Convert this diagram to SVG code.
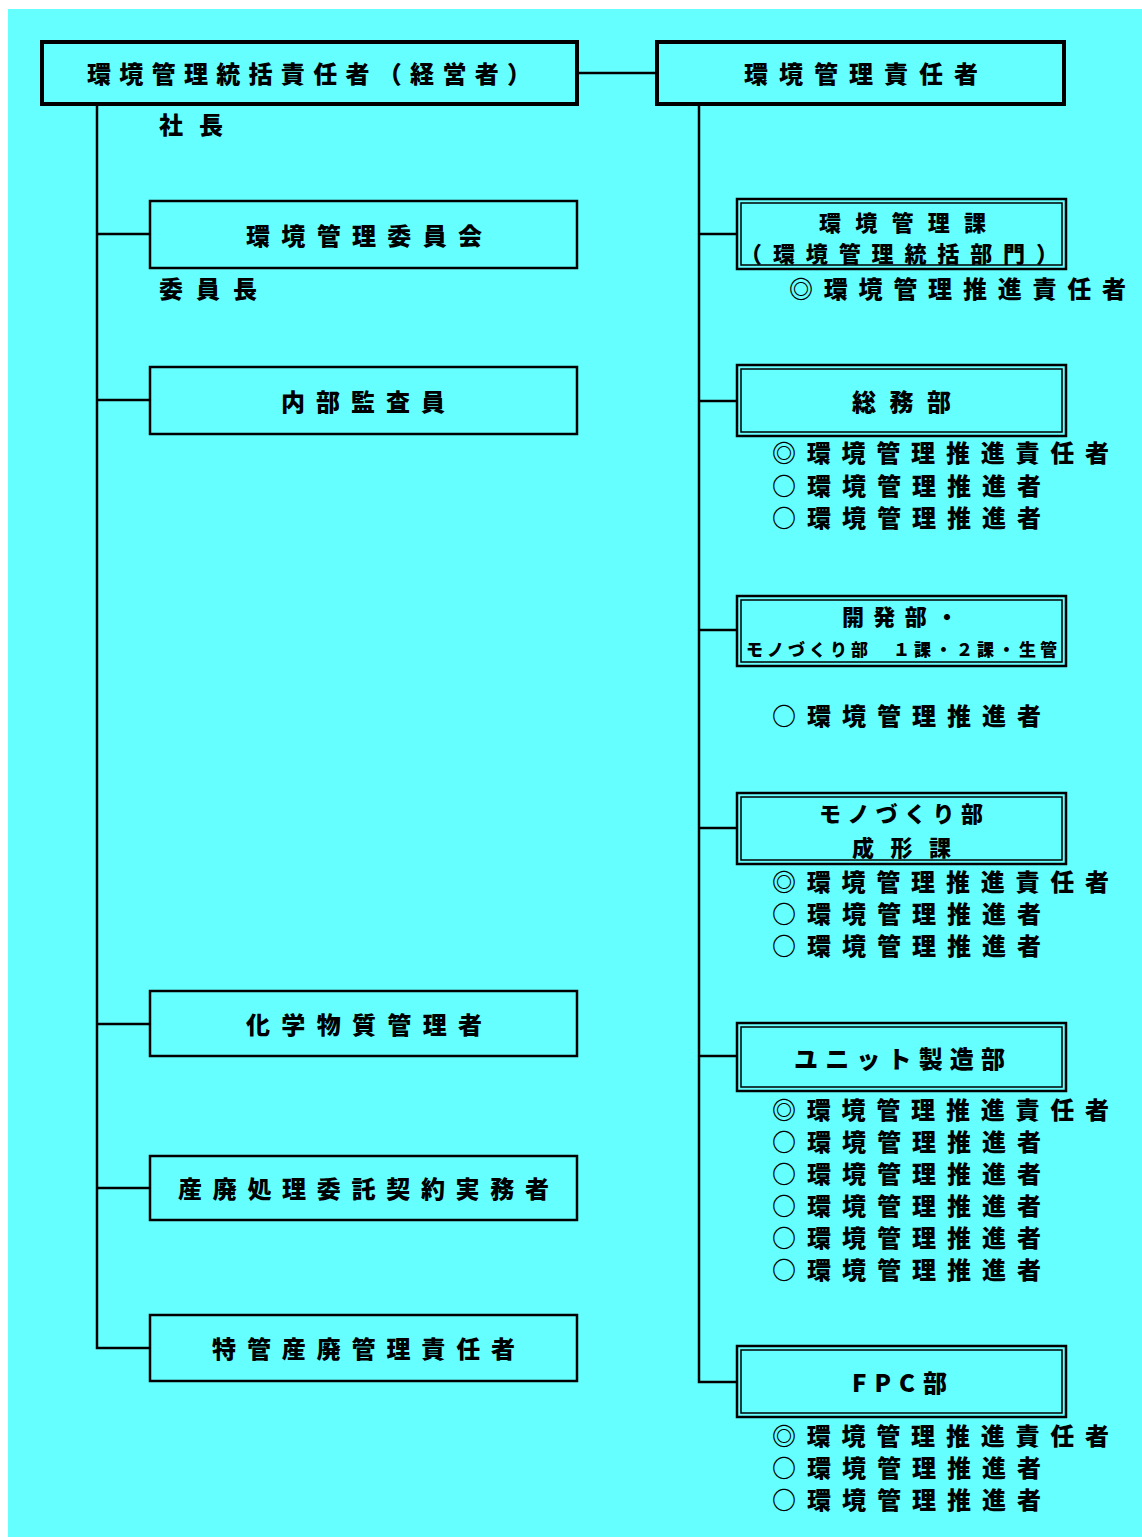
<svg xmlns="http://www.w3.org/2000/svg" width="1142" height="1537" viewBox="0 0 1142 1537">
<style>
.t{font-family:"Noto Sans CJK JP","Noto Sans CJK SC",sans-serif;font-weight:900;font-size:24px;fill:#000}
.s{font-size:24px}
.m{font-size:22px}
.sm{font-size:17px}
.b1{fill:none;stroke:#000;stroke-width:4}
.b2{fill:none;stroke:#000;stroke-width:2.5}
.d1{fill:none;stroke:#000;stroke-width:2.5}
.d2{fill:none;stroke:#000;stroke-width:1.5}
.ln{fill:none;stroke:#000;stroke-width:2.5}
</style>
<rect x="0" y="0" width="1142" height="1537" fill="#fff"/>
<rect x="8" y="9" width="1134" height="1528" fill="#66FFFF"/>
<g id="connectors">
<path class="ln" d="M577 73H656"/>
<path class="ln" d="M97 105V1348H150"/>
<path class="ln" d="M97 234H150M97 400H150M97 1024H150M97 1188H150"/>
<path class="ln" d="M699 105V1382H737"/>
<path class="ln" d="M699 234H737M699 401H737M699 630H737M699 828H737M699 1056H737"/>
</g>
<g id="n-top">
<rect class="b1" x="42" y="42" width="535" height="62"/>
<text class="t" x="87" y="83" textLength="444" lengthAdjust="spacing">環境管理統括責任者（経営者）</text>
<text class="t" x="159" y="134" textLength="64" lengthAdjust="spacing">社長</text>
</g>
<g id="n-mgr">
<rect class="b1" x="657" y="42" width="407" height="62"/>
<text class="t" x="744" y="83" textLength="234" lengthAdjust="spacing">環境管理責任者</text>
</g>
<g id="n-committee">
<rect class="b2" x="150" y="201" width="427" height="67"/>
<text class="t" x="246" y="245" textLength="236" lengthAdjust="spacing">環境管理委員会</text>
<text class="t" x="159" y="298" textLength="98" lengthAdjust="spacing">委員長</text>
</g>
<g id="n-audit">
<rect class="b2" x="150" y="367" width="427" height="67"/>
<text class="t" x="281" y="411" textLength="164" lengthAdjust="spacing">内部監査員</text>
</g>
<g id="n-chem">
<rect class="b2" x="150" y="991" width="427" height="65"/>
<text class="t" x="246" y="1034" textLength="236" lengthAdjust="spacing">化学物質管理者</text>
</g>
<g id="n-waste">
<rect class="b2" x="150" y="1156" width="427" height="64"/>
<text class="t" x="178" y="1198" textLength="371" lengthAdjust="spacing">産廃処理委託契約実務者</text>
</g>
<g id="n-special">
<rect class="b2" x="150" y="1315" width="427" height="66"/>
<text class="t" x="212" y="1358" textLength="303" lengthAdjust="spacing">特管産廃管理責任者</text>
</g>
<g id="n-envsec">
<rect class="d1" x="737" y="199" width="329" height="70"/>
<rect class="d2" x="741" y="203" width="321" height="62"/>
<text class="t m" x="819" y="231" textLength="167" lengthAdjust="spacing">環境管理課</text>
<text class="t m" x="740" y="262" textLength="318" lengthAdjust="spacing">（環境管理統括部門）</text>
<text class="t s" x="789" y="298" textLength="337" lengthAdjust="spacing">◎環境管理推進責任者</text>
</g>
<g id="n-soumu">
<rect class="d1" x="737" y="365" width="329" height="71"/>
<rect class="d2" x="741" y="369" width="321" height="63"/>
<text class="t" x="852" y="411" textLength="99" lengthAdjust="spacing">総務部</text>
<text class="t s" x="772" y="462" textLength="337" lengthAdjust="spacing">◎環境管理推進責任者</text>
<text class="t s" x="772" y="495" textLength="269" lengthAdjust="spacing">○環境管理推進者</text>
<text class="t s" x="772" y="527" textLength="269" lengthAdjust="spacing">○環境管理推進者</text>
</g>
<g id="n-dev">
<rect class="d1" x="737" y="596" width="329" height="70"/>
<rect class="d2" x="741" y="600" width="321" height="62"/>
<text class="t m" x="842" y="625" textLength="116" lengthAdjust="spacing">開発部・</text>
<text class="t sm" x="746" y="656" textLength="311" lengthAdjust="spacing">モノづくり部　１課・２課・生管</text>
<text class="t s" x="772" y="725" textLength="269" lengthAdjust="spacing">○環境管理推進者</text>
</g>
<g id="n-mold">
<rect class="d1" x="737" y="793" width="329" height="71"/>
<rect class="d2" x="741" y="797" width="321" height="63"/>
<text class="t m" x="819" y="822" textLength="164" lengthAdjust="spacing">モノづくり部</text>
<text class="t m" x="852" y="856" textLength="99" lengthAdjust="spacing">成形課</text>
<text class="t s" x="772" y="891" textLength="337" lengthAdjust="spacing">◎環境管理推進責任者</text>
<text class="t s" x="772" y="923" textLength="269" lengthAdjust="spacing">○環境管理推進者</text>
<text class="t s" x="772" y="955" textLength="269" lengthAdjust="spacing">○環境管理推進者</text>
</g>
<g id="n-unit">
<rect class="d1" x="737" y="1023" width="329" height="68"/>
<rect class="d2" x="741" y="1027" width="321" height="60"/>
<text class="t" x="794" y="1068" textLength="211" lengthAdjust="spacing">ユニット製造部</text>
<text class="t s" x="772" y="1119" textLength="337" lengthAdjust="spacing">◎環境管理推進責任者</text>
<text class="t s" x="772" y="1151" textLength="269" lengthAdjust="spacing">○環境管理推進者</text>
<text class="t s" x="772" y="1183" textLength="269" lengthAdjust="spacing">○環境管理推進者</text>
<text class="t s" x="772" y="1215" textLength="269" lengthAdjust="spacing">○環境管理推進者</text>
<text class="t s" x="772" y="1247" textLength="269" lengthAdjust="spacing">○環境管理推進者</text>
<text class="t s" x="772" y="1279" textLength="269" lengthAdjust="spacing">○環境管理推進者</text>
</g>
<g id="n-fpc">
<rect class="d1" x="737" y="1346" width="329" height="71"/>
<rect class="d2" x="741" y="1350" width="321" height="63"/>
<text class="t" x="852" y="1392" textLength="95" lengthAdjust="spacing">FPC部</text>
<text class="t s" x="772" y="1445" textLength="337" lengthAdjust="spacing">◎環境管理推進責任者</text>
<text class="t s" x="772" y="1477" textLength="269" lengthAdjust="spacing">○環境管理推進者</text>
<text class="t s" x="772" y="1509" textLength="269" lengthAdjust="spacing">○環境管理推進者</text>
</g>
</svg>
